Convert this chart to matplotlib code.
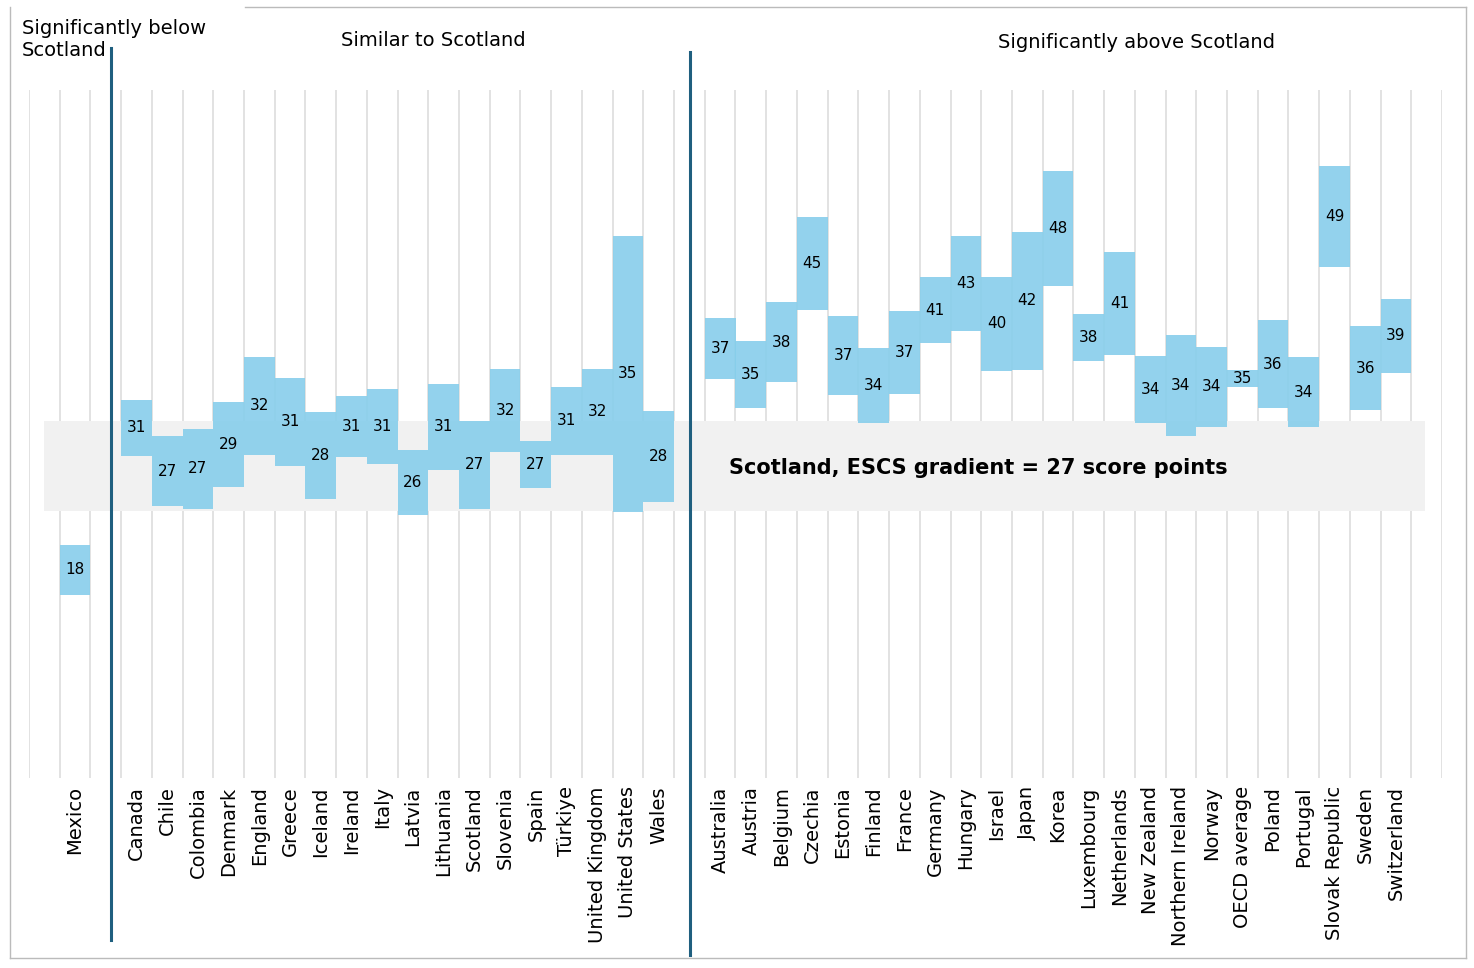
import matplotlib
matplotlib.use("Agg")
import matplotlib.pyplot as plt
from matplotlib.lines import Line2D
from matplotlib.patches import Rectangle

below = ["Mexico"]
below_val = [18]; below_lo = [16.0]; below_hi = [20.3]

similar = ["Canada","Chile","Colombia","Denmark","England","Greece","Iceland","Ireland","Italy",
           "Latvia","Lithuania","Scotland","Slovenia","Spain","Türkiye","United Kingdom","United States","Wales"]
similar_val = [31,27,27,29,32,31,28,31,31,26,31,27,32,27,31,32,35,28]
similar_lo = [28.1,23.7,23.5,25.4,28.2,27.2,24.3,28.0,27.4,22.9,26.9,23.5,28.4,25.3,28.2,28.2,23.2,24.1]
similar_hi = [33.0,29.8,30.4,32.8,36.7,34.9,31.9,33.3,33.9,28.6,34.4,31.1,35.7,29.4,34.1,35.7,47.3,32.0]

above = ["Australia","Austria","Belgium","Czechia","Estonia","Finland","France","Germany","Hungary",
         "Israel","Japan","Korea","Luxembourg","Netherlands","New Zealand","Northern Ireland","Norway",
         "OECD average","Poland","Portugal","Slovak Republic","Sweden","Switzerland"]
above_val = [37,35,38,45,37,34,37,41,43,40,42,48,38,41,34,34,34,35,36,34,49,36,39]
above_lo = [34.8,32.3,34.5,40.8,33.4,31.0,33.5,37.9,39.0,35.5,35.6,42.9,36.4,36.9,31.0,29.8,30.6,34.1,32.3,30.6,44.6,32.1,35.3]
above_hi = [40.1,38.1,41.5,48.9,40.3,37.5,40.7,43.7,47.3,43.7,47.6,52.9,40.5,45.9,36.8,38.6,37.6,35.6,39.9,36.7,53.4,39.4,41.8]

scot_lo, scot_hi = 23.3, 31.1

fig = plt.figure(figsize=(14.74, 9.68), dpi=100)
ax = fig.add_axes([29/1474, 190/968, 1413/1474, 688/968])
ax.set_xlim(-0.5, 45.5)
ax.set_ylim(0, 60)
for s in ax.spines.values():
    s.set_visible(False)
ax.set_yticks([])

for k in range(47):
    ax.axvline(k - 0.5, color="#dddddd", lw=1.2, zorder=0)

ax.add_patch(Rectangle((0.0, scot_lo), 44.95, scot_hi - scot_lo, color="#f1f1f1", zorder=1, lw=0))

names, vals, los, his, pos = [], [], [], [], []
for start, (n, v, l, h) in [(1, (below, below_val, below_lo, below_hi)),
                            (3, (similar, similar_val, similar_lo, similar_hi)),
                            (22, (above, above_val, above_lo, above_hi))]:
    for i in range(len(n)):
        names.append(n[i]); vals.append(v[i]); los.append(l[i]); his.append(h[i]); pos.append(start + i)

heights = [h - l for h, l in zip(his, los)]
ax.bar(pos, heights, bottom=los, width=1.0, color="#87ceeb", alpha=0.9, zorder=2, lw=0)
for p, v, l, h in zip(pos, vals, los, his):
    ax.text(p, (l + h) / 2, str(v), ha="center", va="center", fontsize=11, zorder=3)

ax.set_xticks(pos)
ax.set_xticklabels(names, rotation=90, fontsize=14)
ax.tick_params(axis="x", length=0, pad=6)

ax.text(22.3, 27.0, "Scotland, ESCS gradient = 27 score points", fontsize=15,
        fontweight="bold", va="center", ha="left", zorder=4)

# divider lines (figure coords)
def fl(x0, y0, x1, y1, **kw):
    fig.add_artist(Line2D([x0/1474, x1/1474], [1 - y0/968, 1 - y1/968], **kw))
fl(111, 48, 111, 940, color="#1f5f7f", lw=2.2)
fl(690, 52, 690, 955, color="#1f5f7f", lw=2.2)
# frame
fl(10, 7, 10, 958, color="#bbbbbb", lw=1)
fl(10, 958, 1466, 958, color="#bbbbbb", lw=1)
fl(1466, 7, 1466, 958, color="#bbbbbb", lw=1)
fl(245, 7, 1466, 7, color="#bbbbbb", lw=1)

fig.text(22/1474, 1 - 40/968, "Significantly below\nScotland", fontsize=14, va="center", ha="left", linespacing=1.2)
fig.text(433/1474, 1 - 40/968, "Similar to Scotland", fontsize=14, va="center", ha="center")
fig.text(1136/1474, 1 - 43/968, "Significantly above Scotland", fontsize=14, va="center", ha="center")

fig.savefig("out.png", dpi=100, facecolor="white")
